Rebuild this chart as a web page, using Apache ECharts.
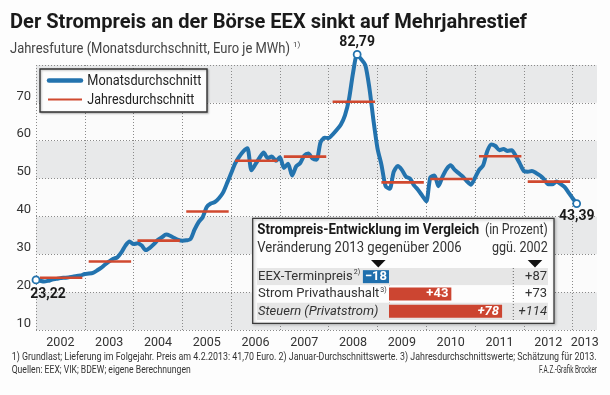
<!DOCTYPE html>
<html><head><meta charset="utf-8">
<script src="https://cdn.jsdelivr.net/npm/echarts@6/dist/echarts.min.js"></script>
<style>html,body{margin:0;padding:0;background:#fdfdfd}#c{width:610px;height:395px}</style>
</head><body><div id="c"></div>
<script>
const FONT = "Roboto, 'Liberation Sans', sans-serif";

// Monthly averages (Euro/MWh), Jan 2002 .. Feb 2013
const startYear = 2002;
const m2002 = [23.22, 23.0, 22.8, 23.0, 23.3, 23.5, 23.7, 23.8, 23.9, 24.1, 24.3, 24.4];
const m2003 = [24.8, 24.9, 25.1, 25.7, 26.4, 27.3, 28.1, 28.8, 29.2, 30.5, 32.3, 33.4];
const m2004 = [32.7, 32.9, 32.3, 31.1, 31.7, 32.7, 33.8, 34.5, 35.2, 34.9, 34.3, 33.8];
const m2005 = [33.6, 33.7, 34.0, 36.5, 38.5, 39.8, 42.5, 43.4, 43.8, 44.8, 46.3, 48.8];
const m2006 = [51.4, 54.0, 55.8, 57.2, 58.0, 52.2, 53.8, 55.5, 56.9, 55.4, 55.8, 54.7];
const m2007 = [55.6, 52.8, 53.9, 50.8, 53.2, 54.1, 56.1, 56.6, 55.3, 55.0, 59.6, 60.8];
const m2008 = [60.7, 61.7, 62.9, 64.3, 66.7, 71.0, 78.0, 82.79, 81.5, 80.0, 74.0, 65.5];
const m2009 = [58.0, 53.5, 48.0, 47.3, 51.8, 53.3, 52.3, 50.5, 50.0, 48.2, 47.0, 45.5];
const m2010 = [44.0, 50.3, 50.8, 48.0, 50.5, 52.5, 53.5, 52.3, 51.4, 50.5, 49.3, 48.4];
const m2011 = [50.2, 52.3, 53.5, 57.2, 59.0, 58.6, 57.5, 57.8, 57.3, 57.5, 56.0, 54.0];
const m2012 = [52.0, 51.8, 52.0, 51.5, 50.8, 49.8, 48.5, 48.5, 49.2, 48.6, 47.8, 46.3];
const m2013 = [44.8, 43.39];

// Annual averages
const avgYears = [2002, 2003, 2004, 2005, 2006, 2007, 2008, 2009, 2010, 2011, 2012];
const avgValues = [23.8, 28.1, 33.6, 41.3, 54.7, 55.8, 70.3, 49.0, 49.9, 55.9, 49.2];

// Axis labels
const yearLabels = ['2002','2003','2004','2005','2006','2007','2008','2009','2010','2011','2012','2013'];

// Inset
const insetCats = ['EEX-Terminpreis', 'Strom Privathaushalt', 'Steuern (Privatstrom)'];
const insetSup = ['2)', '3)', ''];
const change2006 = [-18, 43, 78];
const change2002 = [87, 73, 114];

const monthly = [].concat(m2002, m2003, m2004, m2005, m2006, m2007, m2008, m2009, m2010, m2011, m2012, m2013);
const lineData = monthly.map((v, i) => [startYear + i / 12, v]);
let peakIdx = 0;
monthly.forEach((v, i) => { if (v > monthly[peakIdx]) peakIdx = i; });
const fmt = v => v.toFixed(2).replace('.', ',');

const BLUE = '#2373ae', RED = '#d0492f';
const lblStyle = { show: true, color: '#1a1a1a', fontFamily: FONT, fontWeight: 'bold', fontSize: 14, formatter: p => fmt(p.value[1]) };
const markers = [
  { value: lineData[0], label: Object.assign({}, lblStyle, { position: 'bottom', distance: 3, offset: [12, 0] }) },
  { value: lineData[peakIdx], label: Object.assign({}, lblStyle, { position: 'top', distance: 1 }) },
  { value: lineData[lineData.length - 1], label: Object.assign({}, lblStyle, { position: 'bottom', distance: 2 }) }
];

// text fitting helper (condensed look via horizontal scaling)
const mctx = document.createElement('canvas').getContext('2d');
function measure(text, font) { mctx.font = font; return mctx.measureText(text).width; }
function T(x, y, text, font, target, opts) {
  opts = opts || {};
  const sx = target ? target / measure(text, font) : 1;
  return {
    type: 'text', z: opts.z || 20, x: x, y: y, scaleX: sx,
    style: { x: 0, y: 0, text: text, font: font, fill: opts.fill || '#333', align: opts.align || 'left', verticalAlign: 'middle' }
  };
}

const chart = echarts.init(document.getElementById('c'), null, { renderer: 'canvas' });
const dotted = { color: '#8a8a8a', width: 1, type: [1, 2] };

chart.setOption({
  backgroundColor: '#fdfdfd',
  animation: false,
  textStyle: { fontFamily: FONT },
  grid: [
    { left: 36, top: 65, width: 561, height: 265 },
    { left: 257, top: 268, width: 291, height: 52 }
  ],
  xAxis: [
    {
      gridIndex: 0, type: 'value', min: 2002, max: 2013.5, interval: 1,
      axisLine: { show: false }, axisTick: { show: false },
      splitLine: { show: true, showMaxLine: false, lineStyle: dotted },
      axisLabel: {
        customValues: yearLabels.map((s, i) => +s + (i === yearLabels.length - 1 ? 0.25 : 0.5)),
        formatter: v => String(Math.floor(v)),
        color: '#333', fontSize: 12.5, fontFamily: FONT, margin: 6
      }
    },
    { gridIndex: 1, type: 'value', min: -91.03, max: 109.66, show: false }
  ],
  yAxis: [
    {
      gridIndex: 0, type: 'value', min: 10, max: 80, interval: 10,
      axisLine: { show: false }, axisTick: { show: false },
      splitLine: { show: true, lineStyle: dotted },
      splitArea: { show: true, areaStyle: { color: ['#e8e9ea', '#fbfbfb'] } },
      axisLabel: { formatter: v => (v === 80 ? '' : String(v)), verticalAlign: 'bottom', color: '#333', fontSize: 13, fontFamily: FONT, margin: 5 }
    },
    {
      gridIndex: 1, type: 'category', data: insetCats, inverse: true, z: 11,
      axisLine: { show: false }, axisTick: { show: false },
      splitArea: { show: true, areaStyle: { color: ['#e6e6e6', '#fdfdfd'] } },
      axisLabel: {
        inside: true, margin: 1,
        formatter: (v, i) => i === 2 ? '{it|' + v + '}' : '{n|' + v + '}{s|' + insetSup[i] + '}',
        rich: {
          n: { fontSize: 13, color: '#333', fontFamily: FONT, lineHeight: 15 },
          it: { fontSize: 13, color: '#333', fontFamily: FONT, fontStyle: 'italic', lineHeight: 15 },
          s: { fontSize: 7, color: '#333', fontFamily: FONT, verticalAlign: 'top', lineHeight: 8, padding: [0, 0, 0, 1] }
        }
      }
    },
    {
      gridIndex: 1, type: 'category', position: 'right', inverse: true, z: 11,
      data: change2002.map(v => '+' + v),
      axisLine: { show: false }, axisTick: { show: false },
      axisLabel: {
        inside: true, margin: 1,
        formatter: (v, i) => i === 2 ? '{it|' + v + '}' : '{n|' + v + '}',
        rich: {
          n: { fontSize: 13, color: '#333', fontFamily: FONT },
          it: { fontSize: 13, color: '#333', fontFamily: FONT, fontStyle: 'italic' }
        }
      }
    }
  ],
  series: [
    {
      type: 'line', xAxisIndex: 0, yAxisIndex: 0, data: lineData, showSymbol: false, smooth: 0.25, clip: false,
      lineStyle: { width: 4, color: BLUE, cap: 'round', join: 'round' }, z: 2, silent: true
    },
    {
      type: 'custom', xAxisIndex: 0, yAxisIndex: 0, z: 3, silent: true, clip: false,
      data: avgYears.map((y, i) => [y, avgValues[i]]),
      renderItem: (params, api) => {
        const a = api.coord([api.value(0) + 0.08, api.value(1)]);
        const b = api.coord([api.value(0) + 0.95, api.value(1)]);
        return { type: 'line', shape: { x1: a[0], y1: a[1], x2: b[0], y2: b[1] }, style: { stroke: RED, lineWidth: 2.6 } };
      }
    },
    {
      type: 'scatter', xAxisIndex: 0, yAxisIndex: 0, z: 4, silent: true, clip: false,
      symbol: 'circle', symbolSize: 7,
      itemStyle: { color: '#fff', borderColor: BLUE, borderWidth: 1.8, opacity: 1 },
      data: markers
    },
    {
      type: 'bar', xAxisIndex: 1, yAxisIndex: 1, z: 12, barWidth: 13, silent: true,
      data: change2006.map((v, i) => ({
        value: v,
        itemStyle: { color: v < 0 ? '#1f6fad' : '#cc4531' },
        label: {
          show: true, position: v < 0 ? 'inside' : 'insideRight', distance: 3,
          color: '#fff', fontWeight: 'bold', fontSize: 13, fontFamily: FONT,
          fontStyle: i === 2 ? 'italic' : 'normal',
          formatter: p => (p.value > 0 ? '+' : '\u2212') + Math.abs(p.value)
        }
      })),
      markLine: {
        silent: true, symbol: 'none', label: { show: false },
        lineStyle: { color: '#333', width: 1, type: 'solid' },
        data: [{ xAxis: 0 }]
      }
    }
  ],
  graphic: [
    T(10, 23, 'Der Strompreis an der Börse EEX sinkt auf Mehrjahrestief', 'bold 20px ' + FONT, 517, { fill: '#1a1a1a' }),
    T(10, 49, 'Jahresfuture (Monatsdurchschnitt, Euro je MWh)', '15px ' + FONT, 280, { fill: '#444' }),
    T(293, 45, '1)', '8px ' + FONT, 0, { fill: '#444' }),
    // legend
    { type: 'rect', z: 5, shape: { x: 40, y: 69, width: 167, height: 43 }, style: { fill: '#fdfdfd', stroke: '#333', lineWidth: 1.4, shadowBlur: 2, shadowColor: 'rgba(0,0,0,0.25)', shadowOffsetX: 1, shadowOffsetY: 1 } },
    { type: 'line', z: 6, shape: { x1: 49, y1: 80.5, x2: 81, y2: 80.5 }, style: { stroke: BLUE, lineWidth: 4.5, lineCap: 'round' } },
    { type: 'line', z: 6, shape: { x1: 48, y1: 99.5, x2: 82, y2: 99.5 }, style: { stroke: RED, lineWidth: 2.2 } },
    T(87.3, 81, 'Monatsdurchschnitt', '15px ' + FONT, 114, { fill: '#222', z: 6 }),
    T(87.3, 100, 'Jahresdurchschnitt', '15px ' + FONT, 107, { fill: '#222', z: 6 }),
    // inset box
    { type: 'rect', z: 5, shape: { x: 252.7, y: 218.3, width: 301.3, height: 105 }, style: { fill: '#fdfdfd', stroke: '#3a3a3a', lineWidth: 1.3, shadowBlur: 3, shadowColor: 'rgba(0,0,0,0.3)', shadowOffsetX: 1, shadowOffsetY: 1 } },
    T(257.3, 230, 'Strompreis-Entwicklung im Vergleich', 'bold 14px ' + FONT, 222, { fill: '#1a1a1a', z: 12 }),
    T(547.7, 230, '(in Prozent)', '14px ' + FONT, 62.7, { align: 'right', z: 12 }),
    T(257.3, 248, 'Veränderung 2013 gegenüber 2006', '14px ' + FONT, 204.4, { z: 12 }),
    T(547.7, 248, 'ggü. 2002', '14px ' + FONT, 55.7, { align: 'right', z: 12 }),
    { type: 'polygon', z: 12, shape: { points: [[371, 260], [385.6, 260], [378.3, 267.5]] }, style: { fill: '#111' } },
    { type: 'polygon', z: 12, shape: { points: [[527.7, 260], [542.3, 260], [535, 267.5]] }, style: { fill: '#111' } },
    { type: 'line', z: 12, shape: { x1: 513.3, y1: 268, x2: 513.3, y2: 320 }, style: { stroke: '#666', lineWidth: 1, lineDash: [1, 2] } },
    // footnotes
    T(11.7, 357, '1) Grundlast; Lieferung im Folgejahr. Preis am 4.2.2013: 41,70 Euro. 2) Januar-Durchschnittswerte. 3) Jahresdurchschnittswerte; Schätzung für 2013.', '11px ' + FONT, 585),
    T(11.7, 370, 'Quellen: EEX; VIK; BDEW; eigene Berechnungen', '11px ' + FONT, 179),
    T(597, 370, 'F.A.Z.-Grafik Brocker', '11px ' + FONT, 58, { align: 'right' })
  ]
});
</script></body></html>
